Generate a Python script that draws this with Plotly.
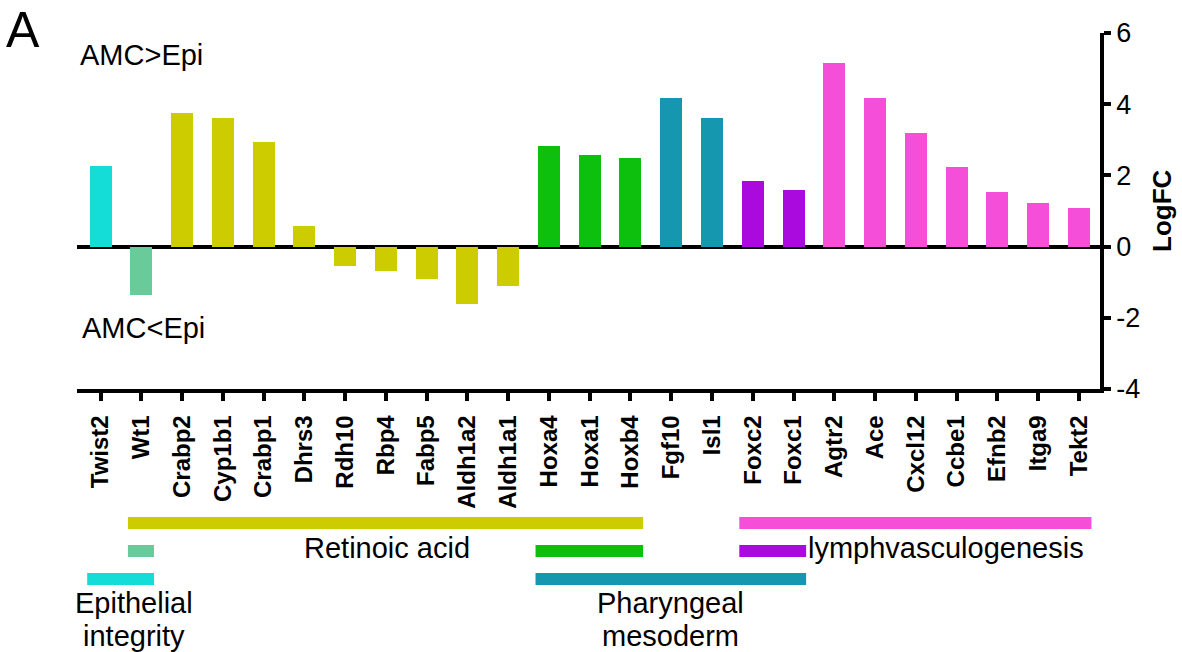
import plotly.graph_objects as go

# ---------------- data ----------------
genes = ["Twist2", "Wt1", "Crabp2", "Cyp1b1", "Crabp1", "Dhrs3", "Rdh10", "Rbp4",
         "Fabp5", "Aldh1a2", "Aldh1a1", "Hoxa4", "Hoxa1", "Hoxb4", "Fgf10", "Isl1",
         "Foxc2", "Foxc1", "Agtr2", "Ace", "Cxcl12", "Ccbe1", "Efnb2", "Itga9", "Tekt2"]
logfc = [2.27, -1.36, 3.75, 3.61, 2.94, 0.58, -0.55, -0.69, -0.91, -1.62, -1.11,
         2.82, 2.57, 2.49, 4.17, 3.61, 1.84, 1.59, 5.15, 4.17, 3.19, 2.23, 1.53,
         1.22, 1.08]
bar_colors = (["#14DCD6", "#69CB9A"] + ["#CCCC00"] * 9 + ["#0DC00D"] * 3 +
              ["#1597AF"] * 2 + ["#AA0ADD"] * 2 + ["#F54FDA"] * 7)
y_ticks = [-4, -2, 0, 2, 4, 6]
y_tick_labels = ["-4", "-2", "0", "2", "4", "6"]

# group brackets below the axis: (start gene, end gene, colour, row)
group_start = ["Wt1", "Foxc2", "Wt1", "Hoxa4", "Foxc2", "Twist2", "Hoxa4"]
group_end = ["Hoxb4", "Tekt2", "Wt1", "Hoxb4", "Foxc1", "Wt1", "Foxc1"]
group_color = ["#CCCC00", "#F54FDA", "#69CB9A", "#0DC00D", "#AA0ADD", "#14DCD6", "#1597AF"]
group_row = [0, 0, 1, 1, 1, 2, 2]

FONT = "Liberation Sans, Arial, sans-serif"

# ---------------- layout geometry (pixels) ----------------
W, H = 1182, 652
L, R, T, B = 77, 82, 33, 263
PW, PH = W - L - R, H - T - B


def px(x):
    return (x - L) / PW


def py(y):
    return (H - B - y) / PH


fig = go.Figure()
fig.add_trace(go.Bar(
    x=list(range(len(genes))), y=logfc,
    marker=dict(color=bar_colors, line=dict(width=0)),
    width=0.54, showlegend=False,
))

# group bars
row_y = [(517, 529), (545, 557), (573, 585)]
shapes = []
for s, e, c, r in zip(group_start, group_end, group_color, group_row):
    i0, i1 = genes.index(s), genes.index(e)
    y_top, y_bot = row_y[r]
    shapes.append(dict(type="rect", xref="x", yref="paper",
                       x0=i0 - 0.33, x1=i1 + 0.31,
                       y0=py(y_bot), y1=py(y_top),
                       fillcolor=c, line=dict(width=0), layer="above"))

ann = []


def text(s, x, y, size=29, xanchor="center", bold=False):
    ann.append(dict(text=f"<b>{s}</b>" if bold else s, x=px(x), y=py(y),
                    xref="paper", yref="paper", showarrow=False,
                    xanchor=xanchor, yanchor="middle",
                    font=dict(family=FONT, size=size, color="black")))


text("A", 4, 30, size=50, xanchor="left")
text("AMC&gt;Epi", 78, 55, size=29, xanchor="left")
text("AMC&lt;Epi", 80, 328, size=29, xanchor="left")
text("Retinoic acid", 387, 548)
text("lymphvasculogenesis", 806, 548, xanchor="left")
text("Epithelial", 134, 603)
text("integrity", 134, 636)
text("Pharyngeal", 670, 603)
text("mesoderm", 670, 636)
text("LogFC", 1162, 211, size=26, bold=True)
ann[-1]["textangle"] = -90

fig.update_layout(
    width=W, height=H,
    margin=dict(l=L, r=R, t=T, b=B, autoexpand=False),
    plot_bgcolor="white", paper_bgcolor="white",
    bargap=0,
    shapes=shapes, annotations=ann,
    font=dict(family=FONT, color="black"),
    xaxis=dict(
        range=[-0.58, 24.52], tickmode="array",
        tickvals=list(range(len(genes))),
        ticktext=[f"<b>{g}</b>" for g in genes],
        tickangle=-90, tickfont=dict(family=FONT, size=24, color="black"),
        ticklabelstandoff=5,
        showline=True, linecolor="black", linewidth=3.5,
        ticks="outside", ticklen=8, tickwidth=3.5, tickcolor="black",
        showgrid=False, zeroline=False, automargin=False,
    ),
    yaxis=dict(
        range=[-4, 6], side="right",
        tickmode="array", tickvals=y_ticks, ticktext=y_tick_labels,
        tickfont=dict(family=FONT, size=27, color="black"),
        showline=True, linecolor="black", linewidth=3.5,
        ticks="outside", ticklen=7, tickwidth=3.5, tickcolor="black",
        showgrid=False, automargin=False,
        zeroline=True, zerolinecolor="black", zerolinewidth=3.5,
    ),
)

fig.write_html("out.html",
               config={"displayModeBar": False},
               post_script="document.body.style.margin='0';"
                           "document.body.style.overflow='hidden';")
